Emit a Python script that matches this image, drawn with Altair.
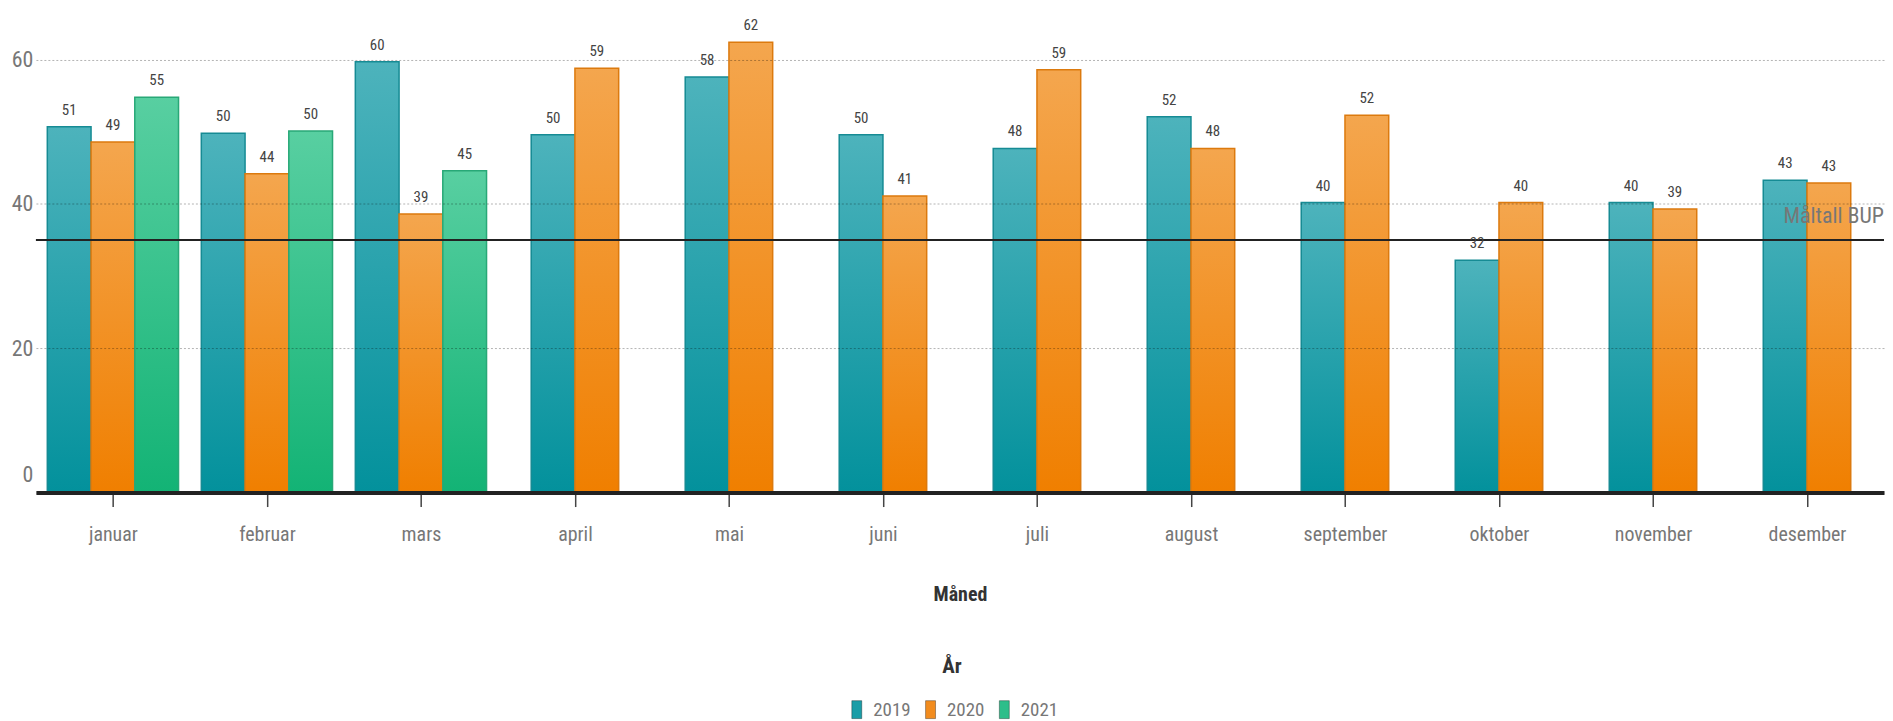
import altair as alt
import pandas as pd

# ---------------- data ----------------
months = ["januar", "februar", "mars", "april", "mai", "juni", "juli",
          "august", "september", "oktober", "november", "desember"]
years = ["2019", "2020", "2021"]
v2019 = [50.7, 49.8, 59.7, 49.6, 57.6, 49.6, 47.7, 52.1, 40.2, 32.2, 40.2, 43.3]
v2020 = [48.6, 44.2, 38.6, 58.8, 62.4, 41.1, 58.6, 47.7, 52.3, 40.2, 39.3, 42.9]
v2021 = [54.8, 50.1, 44.6]
target_value = [35]
target_label = ["Måltall BUP"]

# ---------------- styling ----------------
FONT = "Roboto Condensed, Roboto, sans-serif"
W, H = 1854, 485
BW = 0.284  # bar width as a fraction of one month step

legend_colors = ["#1A9DA7", "#F28C1E", "#2DBE8A"]
grad_top = {"2019": "#4DB3BC", "2020": "#F4A64E", "2021": "#58CFA1"}
grad_bot = {"2019": "#03919C", "2020": "#F07F00", "2021": "#13B375"}
stroke_c = {"2019": "#168B94", "2020": "#DC7A0E", "2021": "#28A877"}

series = {"2019": v2019, "2020": v2020, "2021": v2021}
rows = []
for m, name in enumerate(months):
    present = [y for y in years if m < len(series[y])]
    n = len(present)
    for i, y in enumerate(present):
        c = m + (i - (n - 1) / 2) * BW
        rows.append({"month": name, "Year": y, "value": series[y][m],
                     "xc": c, "x0": c - BW / 2, "x1": c + BW / 2})
df = pd.DataFrame(rows)
tdf = pd.DataFrame({"target": target_value, "label": target_label,
                    "xpos": [len(months) - 0.5]})

xscale = alt.Scale(domain=[-0.5, len(months) - 0.5], nice=False, zero=False)
yscale = alt.Scale(domain=[0, 67], nice=False)
month_expr = "[" + ",".join(f"'{m}'" for m in months) + "][datum.value]"

xaxis = alt.Axis(values=list(range(len(months))), labelExpr=month_expr,
                 title="Måned", grid=False, domainColor="#222", domainWidth=4,
                 tickColor="#444", tickSize=14, tickWidth=1.5,
                 labelFontSize=20, labelColor="#777", labelPadding=18,
                 titleFontSize=20, titleFontWeight="bold", titleColor="#333",
                 titlePadding=40, labelFont=FONT, titleFont=FONT, zindex=1)
yaxis = alt.Axis(values=[0, 20, 40, 60], title=None, domain=False, ticks=False,
                 grid=True, gridColor="#000", gridOpacity=0.3, gridDash=[2, 2],
                 labelFontSize=22, labelColor="#777", labelPadding=3,
                 labelFont=FONT,
                 labelOffset={"condition": {"test": "datum.value === 0", "value": -18},
                              "value": 0},
                 zindex=1)

X = alt.X("x0:Q", scale=xscale, axis=xaxis)
X2 = alt.X2("x1:Q")
Y = alt.Y("value:Q", scale=yscale, axis=yaxis)
Y2 = alt.Y2(datum=0)

legend = alt.Legend(title="År", orient="none", legendX=813, legendY=649,
                    direction="horizontal", titleAnchor="middle",
                    titleFontSize=21, titleFontWeight="bold", titleColor="#333",
                    titlePadding=22, labelFontSize=19, labelColor="#777",
                    symbolType="M-0.5,-0.9H0.5V0.9H-0.5Z", symbolSize=400,
                    symbolStrokeWidth=1, symbolStrokeColor="#00000055",
                    columnPadding=9, labelOffset=6, titleFont=FONT, labelFont=FONT)

base = alt.Chart(df)
legend_bars = base.mark_bar().encode(
    x=X, x2=X2, y=Y, y2=Y2,
    fill=alt.Fill("Year:N", scale=alt.Scale(domain=years, range=legend_colors),
                  legend=legend))

grad_layers = []
for y in years:
    grad = alt.LinearGradient(gradient="linear", x1=0, y1=0, x2=0, y2=1,
                              stops=[alt.GradientStop(color=grad_top[y], offset=0),
                                     alt.GradientStop(color=grad_bot[y], offset=1)])
    grad_layers.append(
        base.transform_filter(alt.datum.Year == y)
        .mark_bar(fill=grad, stroke=stroke_c[y], strokeWidth=1.5)
        .encode(x=X, x2=X2, y=Y, y2=Y2))

labels = base.mark_text(baseline="bottom", dy=-9, fontSize=15, color="#444",
                        font=FONT).encode(
    x=alt.X("xc:Q", scale=xscale),
    y=alt.Y("value:Q", scale=yscale),
    text=alt.Text("value:Q", format=".0f"))

rule = alt.Chart(tdf).mark_rule(color="#222", strokeWidth=2).encode(
    y=alt.Y("target:Q", scale=yscale))
rule_text = alt.Chart(tdf).mark_text(align="right", baseline="bottom", dy=-12,
                                     fontSize=22, color="#777", font=FONT).encode(
    x=alt.X("xpos:Q", scale=xscale),
    y=alt.Y("target:Q", scale=yscale),
    text="label:N")

chart = alt.layer(legend_bars, *grad_layers, rule, rule_text, labels).properties(
    width=W, height=H,
    padding={"left": 3, "top": 0, "right": 0, "bottom": 0},
).configure(font=FONT).configure_view(stroke=None)

chart.save("out.html", embed_options={"renderer": "svg", "actions": False})
